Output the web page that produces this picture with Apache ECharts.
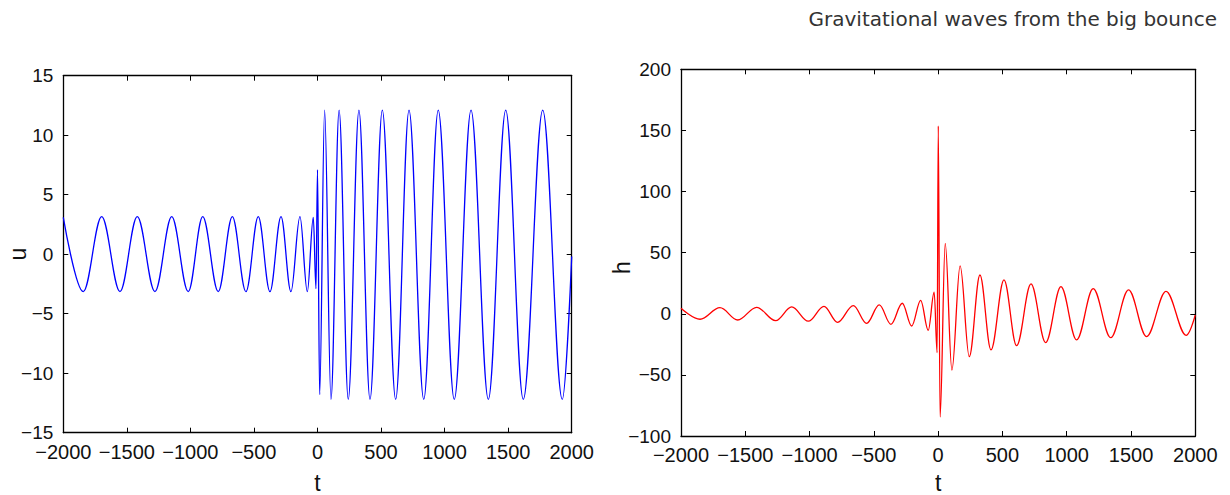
<!DOCTYPE html>
<html>
<head>
<meta charset="utf-8">
<script src="https://cdn.jsdelivr.net/npm/echarts@6/dist/echarts.min.js"></script>
<style>
  html, body { margin: 0; padding: 0; background: #fff; }
  #chart { width: 1230px; height: 495px; }
</style>
</head>
<body>
<div id="chart"></div>
<script>
// ---- data (extrema of the waveforms) ----
const titleText = 'Gravitational waves from the big bounce';

const tTicks = [-2000, -1500, -1000, -500, 0, 500, 1000, 1500, 2000];
const uTicks = [-15, -10, -5, 0, 5, 10, 15];
const hTicks = [-100, -50, 0, 50, 100, 150, 200];

// left panel: u(t)
const uT = [-2000, -1843, -1698, -1554, -1418, -1279, -1147, -1017, -903, -781,
            -670, -563, -466, -374, -287, -209, -138, -80, -33, -12,
            0, 17, 56, 106, 170, 242, 326, 413, 510, 615,
            720, 836, 950, 1076, 1208, 1344, 1481, 1619, 1772, 1926, 2000];
const uV = [3.1, -3.15, 3.15, -3.15, 3.15, -3.15, 3.15, -3.15, 3.15, -3.15,
            3.15, -3.15, 3.15, -3.15, 3.15, -3.15, 3.15, -3.15, 3.1, -2.9,
            7.1, -11.8, 12.1, -12.2, 12.1, -12.2, 12.1, -12.2, 12.1, -12.2,
            12.1, -12.2, 12.1, -12.2, 12.1, -12.2, 12.1, -12.2, 12.1, -12.2, -0.2];

// right panel: h(t)
const hT = [-2000, -1852, -1697, -1559, -1412, -1264, -1139, -1010, -888, -782,
            -660, -556, -458, -367, -279, -206, -136, -77, -31, -8,
            1, 15, 55, 107, 171, 242, 325, 411, 512, 610,
            722, 836, 955, 1077, 1206, 1342, 1481, 1621, 1772, 1929, 2000];
const hV = [4.5, -4.5, 5.0, -5.1, 5.3, -5.6, 5.6, -6.1, 6.1, -7.0,
            6.7, -7.8, 7.2, -8.6, 8.6, -10.0, 11.0, -13.5, 17.7, -31.8,
            153.7, -84.5, 57.5, -46.0, 39.2, -35.1, 31.7, -29.6, 27.7, -26.1,
            24.4, -23.6, 22.2, -21.4, 20.6, -19.6, 19.5, -18.7, 18.4, -17.6, -1.0];

// ---- chart ----
const pair = (xs, ys) => xs.map((x, i) => [x, ys[i]]);
const fmt = v => (v < 0 ? '\u2212' + Math.abs(v) : String(v));
const FONT = '"Liberation Sans", Arial, Helvetica, sans-serif';

function axis(ticks, extra, labelSize, margin) {
  return Object.assign({
    type: 'value',
    min: ticks[0],
    max: ticks[ticks.length - 1],
    interval: ticks[1] - ticks[0],
    nameMoveOverlap: false,
    axisLine: { show: true, onZero: false, lineStyle: { color: '#000', width: 1.3 } },
    axisTick: { show: true, inside: true, length: 5, lineStyle: { color: '#000', width: 1 } },
    splitLine: { show: false },
    axisLabel: { show: true, formatter: fmt, color: '#111', fontSize: labelSize, fontFamily: FONT, margin: margin }
  }, extra);
}
const mirror = { axisLabel: { show: false } };
const nameStyle = { color: '#111', fontSize: 23, lineHeight: 20, fontFamily: FONT };

const chart = echarts.init(document.getElementById('chart'), null, { renderer: 'svg' });
chart.setOption({
  animation: false,
  backgroundColor: '#fff',
  title: {
    text: titleText,
    right: 8, top: 4,
    textStyle: { fontSize: 20, fontWeight: 'normal', color: '#333', fontFamily: '"DejaVu Sans", sans-serif' }
  },
  grid: [
    { left: 63.3, top: 75.7, width: 508.4, height: 357, outerBoundsMode: 'none', containLabel: false },
    { left: 681, top: 69.3, width: 514.3, height: 366.7, outerBoundsMode: 'none', containLabel: false }
  ],
  xAxis: [
    axis(tTicks, { gridIndex: 0, position: 'bottom', name: 't', nameLocation: 'middle', nameGap: 40, nameTextStyle: nameStyle }, 20, 9),
    axis(tTicks, Object.assign({ gridIndex: 0, position: 'top' }, mirror), 20, 9),
    axis(tTicks, { gridIndex: 1, position: 'bottom', name: 't', nameLocation: 'middle', nameGap: 37, nameTextStyle: nameStyle }, 20, 9),
    axis(tTicks, Object.assign({ gridIndex: 1, position: 'top' }, mirror), 20, 9)
  ],
  yAxis: [
    axis(uTicks, { gridIndex: 0, position: 'left', name: 'u', nameLocation: 'middle', nameRotate: 90, nameGap: 35, nameTextStyle: nameStyle }, 19, 10),
    axis(uTicks, Object.assign({ gridIndex: 0, position: 'right' }, mirror), 19, 10),
    axis(hTicks, { gridIndex: 1, position: 'left', name: 'h', nameLocation: 'middle', nameRotate: 90, nameGap: 49,
      nameTextStyle: Object.assign({ padding: [0, 30, 0, 0] }, nameStyle) }, 19, 10),
    axis(hTicks, Object.assign({ gridIndex: 1, position: 'right' }, mirror), 19, 10)
  ],
  series: [
    {
      name: 'u', type: 'line', xAxisIndex: 0, yAxisIndex: 0,
      data: pair(uT, uV), showSymbol: false, smooth: 0.36, smoothMonotone: 'x',
      lineStyle: { color: '#0000ff', width: 1.3 }, clip: true
    },
    {
      name: 'h', type: 'line', xAxisIndex: 2, yAxisIndex: 2,
      data: pair(hT, hV), showSymbol: false, smooth: 0.36, smoothMonotone: 'x',
      lineStyle: { color: '#ff0000', width: 1.3 }, clip: true
    }
  ]
});
</script>
</body>
</html>
